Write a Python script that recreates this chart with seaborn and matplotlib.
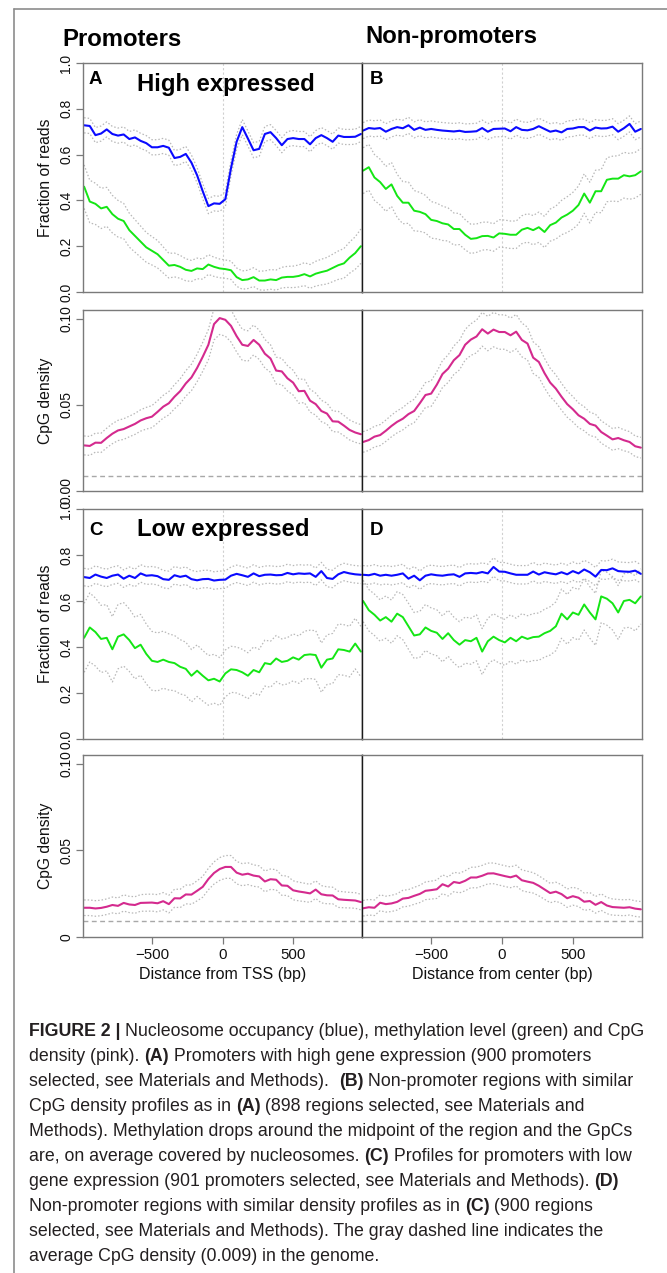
import numpy as np
import pandas as pd
import matplotlib
matplotlib.use("Agg")
import matplotlib.pyplot as plt
from matplotlib.lines import Line2D
import seaborn as sns

# ---------------- data ----------------
POS = np.arange(-980, 981, 40)  # bin centres (bp)

BLUE_A = [0.728,0.725,0.685,0.692,0.710,0.690,0.683,0.688,0.668,0.675,
          0.660,0.650,0.632,0.632,0.638,0.630,0.585,0.590,0.603,0.565,
          0.510,0.440,0.375,0.387,0.385,0.405,0.540,0.656,0.720,0.670,
          0.619,0.625,0.690,0.698,0.672,0.641,0.668,0.672,0.668,0.668,
          0.645,0.672,0.685,0.672,0.656,0.683,0.677,0.677,0.678,0.690]
GREEN_A = [0.460,0.395,0.385,0.365,0.372,0.340,0.320,0.310,0.270,0.245,
           0.220,0.195,0.180,0.165,0.140,0.115,0.118,0.110,0.097,0.092,
           0.103,0.100,0.120,0.110,0.103,0.100,0.095,0.065,0.052,0.055,
           0.065,0.050,0.050,0.055,0.052,0.063,0.066,0.066,0.070,0.078,
           0.068,0.080,0.087,0.093,0.105,0.117,0.125,0.150,0.170,0.200]
BLUE_B = [0.705,0.716,0.713,0.716,0.700,0.712,0.720,0.715,0.728,0.708,
          0.718,0.708,0.712,0.708,0.705,0.703,0.701,0.704,0.699,0.700,
          0.702,0.716,0.700,0.712,0.713,0.714,0.702,0.720,0.708,0.706,
          0.712,0.724,0.712,0.700,0.705,0.697,0.712,0.714,0.720,0.720,
          0.705,0.718,0.714,0.715,0.722,0.700,0.715,0.734,0.700,0.712]
GREEN_B = [0.530,0.545,0.500,0.480,0.450,0.470,0.420,0.390,0.390,0.355,
           0.350,0.340,0.315,0.310,0.300,0.295,0.275,0.275,0.250,0.232,
           0.235,0.244,0.245,0.238,0.256,0.254,0.250,0.250,0.272,0.280,
           0.270,0.283,0.262,0.292,0.303,0.325,0.338,0.355,0.380,0.430,
           0.390,0.440,0.440,0.490,0.495,0.495,0.510,0.505,0.510,0.527]
BLUE_C = [0.704,0.700,0.715,0.706,0.700,0.710,0.715,0.697,0.710,0.700,
          0.720,0.710,0.712,0.708,0.695,0.692,0.712,0.705,0.710,0.695,
          0.690,0.695,0.696,0.689,0.692,0.693,0.710,0.718,0.712,0.705,
          0.720,0.708,0.714,0.715,0.712,0.713,0.722,0.716,0.720,0.718,
          0.720,0.705,0.730,0.700,0.696,0.716,0.726,0.720,0.716,0.714]
GREEN_C = [0.440,0.485,0.465,0.435,0.440,0.390,0.445,0.455,0.430,0.395,
           0.410,0.370,0.340,0.335,0.345,0.335,0.330,0.314,0.305,0.275,
           0.297,0.275,0.255,0.262,0.250,0.285,0.303,0.300,0.290,0.275,
           0.300,0.290,0.330,0.325,0.350,0.335,0.340,0.355,0.345,0.365,
           0.368,0.365,0.310,0.345,0.350,0.390,0.387,0.380,0.415,0.380]
BLUE_D = [0.714,0.712,0.718,0.710,0.714,0.710,0.714,0.720,0.697,0.710,
          0.690,0.710,0.716,0.712,0.710,0.714,0.716,0.705,0.720,0.722,
          0.720,0.726,0.720,0.748,0.728,0.727,0.720,0.714,0.714,0.714,
          0.728,0.715,0.725,0.720,0.716,0.725,0.716,0.730,0.720,0.737,
          0.725,0.706,0.735,0.734,0.742,0.730,0.728,0.727,0.732,0.718]
GREEN_D = [0.600,0.560,0.540,0.515,0.530,0.510,0.545,0.530,0.490,0.450,
           0.455,0.485,0.470,0.462,0.435,0.460,0.430,0.410,0.430,0.425,
           0.440,0.380,0.425,0.445,0.430,0.420,0.440,0.425,0.445,0.435,
           0.443,0.445,0.460,0.470,0.490,0.545,0.520,0.550,0.540,0.585,
           0.550,0.520,0.620,0.610,0.590,0.550,0.600,0.605,0.590,0.620]

PINK_A = [0.0265,0.0262,0.0281,0.0280,0.0308,0.0333,0.0352,0.0360,0.0375,0.0390,
          0.0410,0.0423,0.0432,0.0460,0.0490,0.0510,0.0548,0.0580,0.0625,0.0660,
          0.0715,0.0780,0.0850,0.0970,0.1005,0.0995,0.0960,0.0900,0.0850,0.0843,
          0.0878,0.0850,0.0798,0.0770,0.0700,0.0695,0.0655,0.0630,0.0580,0.0582,
          0.0525,0.0505,0.0465,0.0450,0.0405,0.0403,0.0380,0.0355,0.0340,0.0330]
PINK_B = [0.0285,0.0296,0.0316,0.0325,0.0350,0.0378,0.0402,0.0420,0.0447,0.0465,
          0.0510,0.0558,0.0566,0.0618,0.0680,0.0711,0.0760,0.0790,0.0850,0.0880,
          0.0898,0.0940,0.0915,0.0938,0.0924,0.0924,0.0905,0.0926,0.0878,0.0857,
          0.0775,0.0750,0.0685,0.0630,0.0595,0.0548,0.0505,0.0475,0.0440,0.0420,
          0.0390,0.0380,0.0343,0.0322,0.0300,0.0308,0.0295,0.0285,0.0260,0.0252]
PINK_C = [0.0169,0.0169,0.0165,0.0168,0.0175,0.0185,0.0180,0.0197,0.0188,0.0185,
          0.0197,0.0198,0.0199,0.0195,0.0207,0.0190,0.0224,0.0223,0.0246,0.0245,
          0.0267,0.0290,0.0335,0.0370,0.0393,0.0405,0.0405,0.0372,0.0360,0.0366,
          0.0355,0.0350,0.0321,0.0334,0.0331,0.0298,0.0296,0.0270,0.0263,0.0258,
          0.0252,0.0274,0.0247,0.0241,0.0240,0.0218,0.0215,0.0213,0.0211,0.0202]
PINK_D = [0.0166,0.0172,0.0169,0.0198,0.0190,0.0194,0.0203,0.0222,0.0226,0.0238,
          0.0249,0.0267,0.0271,0.0276,0.0305,0.0292,0.0318,0.0312,0.0325,0.0344,
          0.0344,0.0354,0.0367,0.0368,0.0360,0.0352,0.0345,0.0355,0.0328,0.0320,
          0.0313,0.0296,0.0275,0.0254,0.0262,0.0248,0.0224,0.0236,0.0227,0.0204,
          0.0208,0.0186,0.0202,0.0182,0.0173,0.0171,0.0169,0.0172,0.0164,0.0160]

# spread of the dotted grey bands (half-width around each profile)
BLUE_SPREAD = {"A": 0.033, "B": 0.035, "C": 0.038, "D": 0.040}
GREEN_SPREAD_A = [0.095,0.093,0.090,0.088,0.085,0.082,0.080,0.077,0.074,0.071,
                  0.068,0.065,0.062,0.060,0.057,0.054,0.052,0.050,0.048,0.046,
                  0.045,0.044,0.043,0.042,0.041,0.040,0.040,0.040,0.040,0.040,
                  0.041,0.041,0.042,0.043,0.044,0.045,0.046,0.047,0.048,0.050,
                  0.052,0.054,0.056,0.058,0.060,0.062,0.065,0.068,0.071,0.075]
GREEN_SPREAD_B = [0.100,0.100,0.100,0.100,0.098,0.096,0.094,0.092,0.090,0.088,
                  0.085,0.082,0.080,0.078,0.075,0.072,0.070,0.068,0.066,0.064,
                  0.062,0.061,0.060,0.060,0.060,0.060,0.060,0.060,0.061,0.062,
                  0.064,0.066,0.068,0.070,0.072,0.075,0.078,0.080,0.083,0.086,
                  0.089,0.092,0.094,0.096,0.098,0.100,0.100,0.100,0.100,0.100]
GREEN_SPREAD_C = [0.150,0.150,0.148,0.146,0.144,0.142,0.140,0.138,0.136,0.134,
                  0.132,0.130,0.128,0.126,0.124,0.122,0.120,0.118,0.116,0.114,
                  0.112,0.110,0.108,0.106,0.104,0.102,0.100,0.100,0.100,0.100,
                  0.100,0.100,0.100,0.100,0.100,0.100,0.101,0.102,0.103,0.104,
                  0.105,0.106,0.107,0.108,0.109,0.110,0.110,0.110,0.110,0.110]
GREEN_SPREAD_D = [0.090,0.090,0.090,0.090,0.092,0.094,0.096,0.098,0.100,0.100,
                  0.100,0.100,0.100,0.100,0.100,0.100,0.100,0.100,0.100,0.100,
                  0.100,0.100,0.100,0.100,0.100,0.100,0.100,0.100,0.100,0.101,
                  0.102,0.103,0.104,0.105,0.106,0.107,0.108,0.109,0.110,0.111,
                  0.112,0.113,0.114,0.115,0.116,0.117,0.118,0.119,0.120,0.120]
PINK_SPREAD_A = [0.0055,0.0055,0.0055,0.0056,0.0057,0.0058,0.0059,0.0060,0.0060,0.0061,
                 0.0062,0.0063,0.0064,0.0065,0.0066,0.0068,0.0070,0.0072,0.0074,0.0077,
                 0.0080,0.0084,0.0088,0.0092,0.0095,0.0095,0.0094,0.0092,0.0090,0.0088,
                 0.0087,0.0085,0.0083,0.0080,0.0078,0.0076,0.0074,0.0072,0.0070,0.0068,
                 0.0066,0.0064,0.0062,0.0061,0.0060,0.0060,0.0059,0.0058,0.0057,0.0056]
PINK_SPREAD_B = [0.0060,0.0060,0.0060,0.0061,0.0062,0.0063,0.0064,0.0065,0.0066,0.0068,
                 0.0070,0.0072,0.0074,0.0076,0.0078,0.0080,0.0083,0.0086,0.0089,0.0092,
                 0.0095,0.0098,0.0100,0.0100,0.0100,0.0100,0.0100,0.0100,0.0098,0.0095,
                 0.0092,0.0089,0.0086,0.0083,0.0080,0.0078,0.0076,0.0074,0.0072,0.0070,
                 0.0068,0.0066,0.0065,0.0064,0.0063,0.0062,0.0061,0.0060,0.0060,0.0060]
PINK_SPREAD_C = [0.0045,0.0045,0.0045,0.0045,0.0045,0.0046,0.0046,0.0047,0.0047,0.0048,
                 0.0048,0.0049,0.0049,0.0050,0.0050,0.0051,0.0052,0.0053,0.0054,0.0056,
                 0.0058,0.0060,0.0062,0.0064,0.0066,0.0066,0.0066,0.0065,0.0064,0.0063,
                 0.0062,0.0061,0.0060,0.0059,0.0058,0.0057,0.0056,0.0055,0.0054,0.0053,
                 0.0052,0.0051,0.0050,0.0049,0.0048,0.0047,0.0046,0.0045,0.0045,0.0045]
PINK_SPREAD_D = [0.0045,0.0045,0.0045,0.0046,0.0046,0.0047,0.0047,0.0048,0.0048,0.0049,
                 0.0050,0.0051,0.0052,0.0053,0.0054,0.0055,0.0056,0.0057,0.0058,0.0059,
                 0.0060,0.0060,0.0060,0.0060,0.0060,0.0060,0.0060,0.0060,0.0060,0.0060,
                 0.0059,0.0058,0.0057,0.0056,0.0055,0.0054,0.0053,0.0052,0.0051,0.0050,
                 0.0049,0.0048,0.0048,0.0047,0.0047,0.0046,0.0046,0.0045,0.0045,0.0045]

GENOME_CPG = 0.009
FRAC_TICKS = [0.0, 0.2, 0.4, 0.6, 0.8, 1.0]
FRAC_LABELS = ["0.0", "0.2", "0.4", "0.6", "0.8", "1.0"]
CPG_TICKS = [0.0, 0.05, 0.10]
CPG_LABELS_TOP = ["0.00", "0.05", "0.10"]
CPG_LABELS_BOTTOM = ["0", "0.05", "0.10"]
X_TICKS = [-500, 0, 500]
X_LABELS = ["\u2212500", "0", "500"]

COLUMN_TITLES = ["Promoters", "Non-promoters"]
ROW_TITLES = ["High expressed", "Low expressed"]
PANEL_LETTERS = ["A", "B", "C", "D"]

CAPTION = [
    [("FIGURE 2 | ", True), ("Nucleosome occupancy (blue), methylation level (green) and CpG", False)],
    [("density (pink). ", False), ("(A)", True), (" Promoters with high gene expression (900 promoters", False)],
    [("selected, see Materials and Methods).  ", False), ("(B)", True), (" Non-promoter regions with similar", False)],
    [("CpG density profiles as in ", False), ("(A)", True), (" (898 regions selected, see Materials and", False)],
    [("Methods). Methylation drops around the midpoint of the region and the GpCs", False)],
    [("are, on average covered by nucleosomes. ", False), ("(C)", True), (" Profiles for promoters with low", False)],
    [("gene expression (901 promoters selected, see Materials and Methods). ", False), ("(D)", True)],
    [("Non-promoter regions with similar density profiles as in ", False), ("(C)", True), (" (900 regions", False)],
    [("selected, see Materials and Methods). The gray dashed line indicates the", False)],
    [("average CpG density (0.009) in the genome.", False)],
]

# ---------------- style ----------------
sns.set_style("white")
plt.rcParams["font.family"] = ["Liberation Sans", "DejaVu Sans"]
plt.rcParams["axes.unicode_minus"] = True

BLUE = "#0a0aff"
GREEN = "#14e614"
PINK = "#d42a8e"
BAND = "#b8b8b8"
FRAME = "#7a7a7a"
DIVIDER = "#1a1a1a"
TXT = "#111111"
CAP_COLOR = "#231f20"

W, H = 667, 1273
fig = plt.figure(figsize=(W / 100, H / 100), dpi=100)


def fx(px):
    return px / W


def fy(py):
    return 1 - py / H


COLS = [(83, 362), (362, 642)]
ROWS = [(63, 292), (310, 491), (509, 739), (755, 937)]


def make_ax(col, row):
    x0, x1 = COLS[col]
    y0, y1 = ROWS[row]
    return fig.add_axes([fx(x0), fy(y1), (x1 - x0) / W, (y1 - y0) / H])


def line(ax, y, color, lw=1.3, ls="-"):
    sns.lineplot(x=POS, y=np.asarray(y), ax=ax, color=color, linewidth=lw,
                 linestyle=ls, estimator=None, sort=False, legend=False)


def band(ax, mean, spread):
    m = np.asarray(mean)
    s = np.asarray(spread)
    for sign in (1, -1):
        line(ax, m + sign * s, BAND, lw=0.9, ls=(0, (1.2, 1.6)))


def style_ax(ax, col, ylim, yt, ylabels, xticks):
    ax.set_xlim(-988, 988)
    ax.set_ylim(*ylim)
    for name, sp in ax.spines.items():
        sp.set_color(FRAME)
        sp.set_linewidth(1.0)
    if col == 0:
        ax.spines["right"].set_color(DIVIDER)
    else:
        ax.spines["left"].set_color(DIVIDER)
    if col == 0:
        ax.set_yticks(yt)
        ax.set_yticklabels(ylabels)
        ax.tick_params(axis="y", direction="out", length=5, width=0.9,
                       color=FRAME, pad=2, labelsize=10.0, labelcolor=TXT, left=True)
        for lab in ax.get_yticklabels():
            lab.set_rotation(90)
            lab.set_va("center")
    else:
        ax.set_yticks([])
    if xticks:
        ax.set_xticks(X_TICKS)
        ax.set_xticklabels(X_LABELS)
        ax.tick_params(axis="x", direction="out", length=5, width=0.9,
                       color=FRAME, pad=3, labelsize=10.8, labelcolor=TXT, bottom=True)
    else:
        ax.set_xticks([])
    ax.set_xlabel("")
    ax.set_ylabel("")


BLUES = [BLUE_A, BLUE_B, BLUE_C, BLUE_D]
GREENS = [GREEN_A, GREEN_B, GREEN_C, GREEN_D]
GSPREADS = [GREEN_SPREAD_A, GREEN_SPREAD_B, GREEN_SPREAD_C, GREEN_SPREAD_D]
PINKS = [PINK_A, PINK_B, PINK_C, PINK_D]
PSPREADS = [PINK_SPREAD_A, PINK_SPREAD_B, PINK_SPREAD_C, PINK_SPREAD_D]

for k in range(4):
    block = k // 2   # 0 = high, 1 = low
    col = k % 2
    r0, r1 = ROWS[2 * block]
    # fraction panel
    ax = make_ax(col, 2 * block)
    ax.axvline(0, color="#d0d0d0", lw=0.8, ls=(0, (2, 2)), zorder=1)
    band(ax, BLUES[k], BLUE_SPREAD[PANEL_LETTERS[k]])
    band(ax, GREENS[k], GSPREADS[k])
    line(ax, GREENS[k], GREEN, lw=1.4)
    line(ax, BLUES[k], BLUE, lw=1.5)
    style_ax(ax, col, (0, 1), FRAC_TICKS, FRAC_LABELS, False)
    if col == 0:
        ax.set_ylabel("Fraction of reads", fontsize=11.3, color=TXT)
        ax.yaxis.set_label_coords((53 - 83) / 279, 0.5)
    ax.text((89 - 83) / 279 if col == 0 else (370 - 362) / 280,
            1 - ((79 if block == 0 else 531) - r0) / (r1 - r0),
            PANEL_LETTERS[k], transform=ax.transAxes, fontsize=13.5,
            fontweight="bold", ha="left", va="center", color="#000000")
    if col == 0:
        ax.text((137 - 83) / 279,
                1 - ((85 if block == 0 else 530) - r0) / (r1 - r0),
                ROW_TITLES[block], transform=ax.transAxes, fontsize=17.2,
                fontweight="bold", ha="left", va="center", color="#000000")

    # CpG density panel
    ax2 = make_ax(col, 2 * block + 1)
    ax2.axhline(GENOME_CPG, color="#a8a8a8", lw=1.0, ls=(0, (3.5, 2.5)), zorder=1)
    band(ax2, PINKS[k], PSPREADS[k])
    line(ax2, PINKS[k], PINK, lw=1.5)
    style_ax(ax2, col, (0, 0.1052), CPG_TICKS,
             CPG_LABELS_TOP if block == 0 else CPG_LABELS_BOTTOM, block == 1)
    if col == 0:
        ax2.set_ylabel("CpG density", fontsize=11.3, color=TXT)
        ax2.yaxis.set_label_coords((53 - 83) / 279, 0.5)
    if block == 1:
        ax2.set_xlabel("Distance from TSS (bp)" if col == 0 else "Distance from center (bp)",
                       fontsize=11.5, color=TXT)
        ax2.xaxis.set_label_coords(0.5, (937 - 967) / 182)
        ax2.xaxis.label.set_va("top")

# column titles
fig.text(fx(62), fy(39), COLUMN_TITLES[0], fontsize=17.2, fontweight="bold",
         ha="left", va="center", color="#000000")
fig.text(fx(365), fy(37), COLUMN_TITLES[1], fontsize=17.2, fontweight="bold",
         ha="left", va="center", color="#000000")

# outer frame (top and left rule)
fig.add_artist(Line2D([fx(14), fx(667)], [fy(9), fy(9)], color="#8c8c8c", lw=1.2))
fig.add_artist(Line2D([fx(14), fx(14)], [fy(9), fy(1273)], color="#8c8c8c", lw=1.2))

# caption with mixed bold segments
renderer = fig.canvas.get_renderer()
CAP_SIZE = 12.8


def text_width(s, bold):
    t1 = fig.text(0, 0, s + "|", fontsize=CAP_SIZE, fontweight="bold" if bold else "normal")
    t2 = fig.text(0, 0, "|", fontsize=CAP_SIZE, fontweight="bold" if bold else "normal")
    w = t1.get_window_extent(renderer).width - t2.get_window_extent(renderer).width
    t1.remove()
    t2.remove()
    return w


for i, segs in enumerate(CAPTION):
    x = 29.0
    ybase = 1036 + i * 25.0
    for s, bold in segs:
        fig.text(fx(x), fy(ybase), s, fontsize=CAP_SIZE,
                 fontweight="bold" if bold else "normal",
                 ha="left", va="baseline", color=CAP_COLOR)
        x += text_width(s, bold)

fig.savefig("out.png", dpi=100)
